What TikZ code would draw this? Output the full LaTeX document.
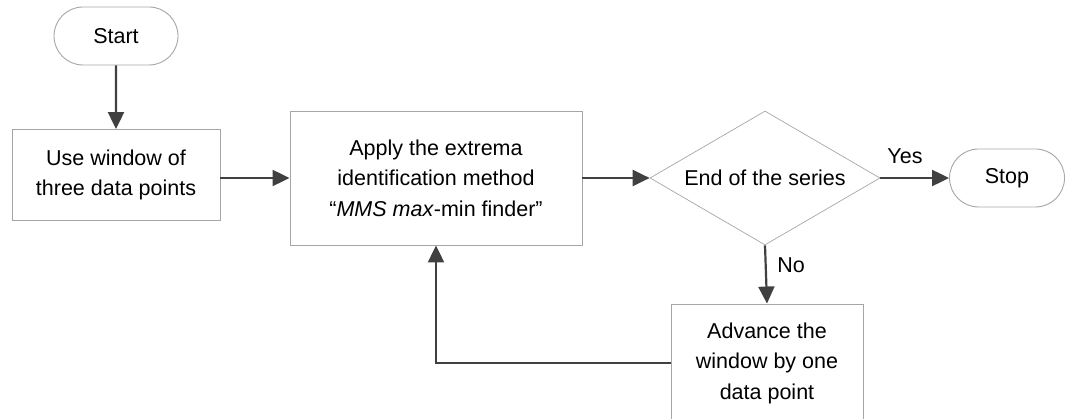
\documentclass[tikz,border=0pt]{standalone}
\usepackage{fontspec}
\setmainfont{Liberation Sans}
\usetikzlibrary{shapes.geometric,shapes.misc,arrows.meta}
\definecolor{edge}{HTML}{404040}
\definecolor{frame}{HTML}{A6A6A6}
\tikzset{
  boxstyle/.style={draw=frame, line width=0.9pt, rectangle, align=center, inner sep=0pt, font=\fontsize{21.5}{30.5}\selectfont},
  termstyle/.style={draw=frame, line width=0.9pt, rounded rectangle, inner sep=0pt, font=\fontsize{21.5}{30.5}\selectfont},
  decstyle/.style={draw=frame, line width=0.7pt, diamond, inner sep=0pt, font=\fontsize{21.5}{30.5}\selectfont},
  conn/.style={draw=edge, line width=2.2pt, -{Triangle[length=17pt,width=16pt]}},
  lbl/.style={font=\fontsize{21.5}{24}\selectfont, inner sep=0pt}
}
\begin{document}
\begin{tikzpicture}[x=1pt,y=-1pt]
\useasboundingbox (0,0) rectangle (1067,419);
\clip (0,0) rectangle (1067,419);
\node[termstyle, minimum width=124pt, minimum height=58pt] (start) at (116,36) {Start};
\node[boxstyle, minimum width=208pt, minimum height=91pt] (use) at (116,175) {Use window of\\three data points};
\node[boxstyle, minimum width=292pt, minimum height=134pt] (apply) at (436,178) {Apply the extrema\\identification method\\``\textit{MMS max}-min finder''};
\node[decstyle, minimum width=230pt, minimum height=134pt, aspect=1.716] (end) at (765,178) {End of the series};
\node[termstyle, minimum width=115pt, minimum height=58pt] (stop) at (1007,178) {Stop};
\node[boxstyle, minimum width=192pt, minimum height=118pt] (adv) at (767,363) {Advance the\\window by one\\data point};
\draw[conn] (start) -- (use);
\draw[conn] (use.east |- apply) -- (apply.west);
\draw[conn] (apply) -- (end);
\draw[conn] (end) -- (stop);
\node[lbl] (yes) at (905,156) {Yes};
\draw[conn] (end.south) -- (adv.north);
\node[lbl] (no) at (791,265) {No};
\draw[conn] (adv.west) -| (apply.south);
\end{tikzpicture}
\end{document}
